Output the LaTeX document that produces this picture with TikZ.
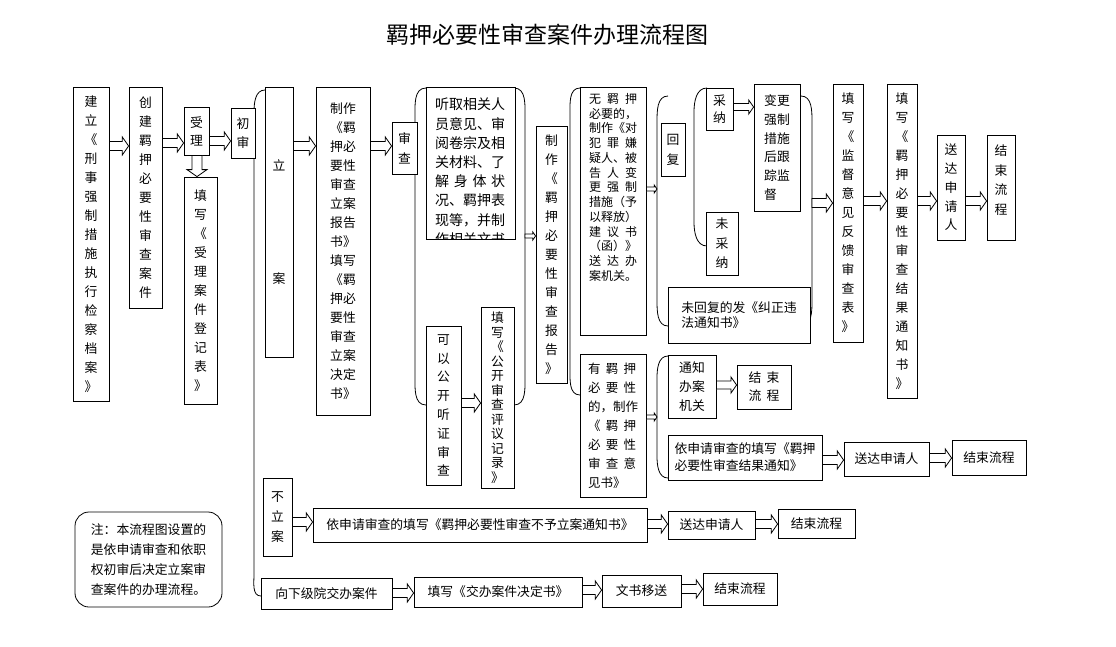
\documentclass[tikz,border=0pt]{standalone}
\usepackage{fontspec}
\setmainfont{Noto Sans CJK SC}
\usetikzlibrary{calc}

\tikzset{
  box/.style={draw, fill=white, line width=0.8pt, inner sep=0pt, align=center,
    font=\fontsize{12.8}{19}\selectfont},
  wen/.style={inner sep=0pt, align=center, font=\fontsize{12.8}{19}\selectfont},
  blk/.style={draw, fill=white, line width=0.8pt},
  brc/.style={draw, line width=0.8pt},
}

% box from its corners: [opts] name x1 y1 x2 y2 text
\newcommand\kuang[7][]{%
  \node[box, minimum width={(#5-#3)*1pt}, minimum height={(#6-#4)*1pt}, #1]
    (#2) at ({(#3+#5)/2},{(#4+#6)/2}) {#7};}

% hollow block arrow, left to right: [half shaft] from to y
\newcommand\jt[4][4.5]{%
  \draw[blk] let \p1=#2, \p2=#3, \p3=(0,#4) in
    (\x1,\y3+#1pt) -- (\x2-1.4*#1pt,\y3+#1pt) -- (\x2-1.4*#1pt,\y3+2*#1pt)
    -- (\x2,\y3) -- (\x2-1.4*#1pt,\y3-2*#1pt) -- (\x2-1.4*#1pt,\y3-#1pt)
    -- (\x1,\y3-#1pt) -- cycle;}

% hollow block arrow, downwards: [half shaft] from to x
\newcommand\jtd[4][5]{%
  \draw[blk] let \p1=#2, \p2=#3, \p3=(#4,0) in
    (\x3-#1pt,\y1) -- (\x3-#1pt,\y2+1.4*#1pt) -- (\x3-2*#1pt,\y2+1.4*#1pt)
    -- (\x3,\y2) -- (\x3+2*#1pt,\y2+1.4*#1pt) -- (\x3+#1pt,\y2+1.4*#1pt)
    -- (\x3+#1pt,\y1) -- cycle;}

% spread line
\newcommand\pk[2][48pt]{\makebox[#1][s]{#2}}

\begin{document}
\begin{tikzpicture}[x=1pt, y=-1pt]

  \useasboundingbox (0,0) rectangle (1116,646);

  \node[font=\fontsize{23}{23}\selectfont] (biaoti) at (547,35) {羁押必要性审查案件办理流程图};

  % braces
  \draw[brc] (265,90) to[out=180,in=90] (254,112) -- (254,574) to[out=-90,in=180] (261,596);

  \draw[brc] (426,88) to[out=180,in=90] (415,118) -- (415,375) to[out=-90,in=180] (426,405);
  \draw[brc] (514,88) to[out=0,in=90] (525,118) -- (525,375) to[out=-90,in=0] (514,405);
  \coordinate (shenchaR) at (525,236);

  \draw[brc] (580,88) to[out=180,in=90] (570,115) -- (570,368) to[out=-90,in=180] (580,395);

  \draw[brc] (668,96) to[out=180,in=90] (657,122) -- (657,300) to[out=-90,in=180] (668,326);
  \draw[brc] (801,96) to[out=0,in=90] (812,122) -- (812,300) to[out=-90,in=0] (801,326);
  \coordinate (huifuL) at (657,189);
  \coordinate (huifuR) at (812,203);

  \draw[brc] (707,88) to[out=180,in=90] (694,112) -- (694,222) to[out=-90,in=180] (707,246);

  \draw[brc] (668,356) to[out=180,in=90] (657,378) -- (657,456) to[out=-90,in=180] (668,478);
  \coordinate (youR) at (657,417);

  % first row
  \kuang{jianli}{73}{87}{109}{401}{建\\立\\《\\刑\\事\\强\\制\\措\\施\\执\\行\\检\\察\\档\\案\\》}
  \kuang{chuangjian}{129}{87}{162}{308}{创\\建\\羁\\押\\必\\要\\性\\审\\查\\案\\件}
  \kuang[font=\fontsize{12.8}{18}\selectfont]{shouli}{184}{107}{209}{155}{受\\理}
  \kuang{tianxie1}{184}{177}{217}{404}{填\\写\\《\\受\\理\\案\\件\\登\\记\\表\\》}
  \kuang{chushen}{231}{108}{255}{158}{初\\审}
  \kuang{lian}{265}{87}{293}{357}{立\\[94pt]案}
  \kuang{zhizuo1}{316}{87}{370}{415}{制作\\《羁\\押必\\要性\\审查\\立案\\报告\\书》\\填写\\《羁\\押必\\要性\\审查\\立案\\决定\\书》}
  \kuang[font=\fontsize{12.8}{20}\selectfont]{shencha}{392}{122}{417}{174}{审\\查}

  % hearing text, cut at the box bottom
  \kuang{tingqu}{426}{87}{515}{239}{}
  \begin{scope}
    \clip (tingqu.south west) rectangle (tingqu.north east);
    \node[wen, anchor=north west, align=left, font=\fontsize{14}{19.2}\selectfont]
      (tingquwen) at (435,98) {听取相关人\\员意见、审\\阅卷宗及相\\关材料、了\\\pk[70pt]{解\hfil 身\hfil 体\hfil 状}\\况、羁押表\\现等，并制\\作相关文书};
  \end{scope}

  \kuang[font=\fontsize{12.8}{18.8}\selectfont]{gongkai}{426}{326}{461}{485}{可\\以\\公\\开\\听\\证\\审\\查}
  \kuang[font=\fontsize{12.8}{14.5}\selectfont]{tianxie2}{481}{307}{514}{488}{填\\写\\《\\公\\开\\审\\查\\评\\议\\记\\录\\》}
  \kuang{zhizuo2}{536}{126}{567}{383}{制\\作\\《\\羁\\押\\必\\要\\性\\审\\查\\报\\告\\》}

  \kuang{wu}{580}{87}{646}{335}{}
  \node[wen, anchor=north, font=\fontsize{12}{14.75}\selectfont] (wuwen) at (613,93)
    {\pk{无\hfil 羁\hfil 押}\\必要的，\\制作《对\\\pk{犯\hfil 罪\hfil 嫌}\\疑人、被\\\pk{告\hfil 人\hfil 变}\\\pk{更\hfil 强\hfil 制}\\措施（予\\以释放）\\\pk{建\hfil 议\hfil 书}\\（函）》\\\pk{送\hfil 达\hfil 办}\\案机关。};
  \kuang[font=\fontsize{12.5}{19}\selectfont, align=left]{you}{580}{354}{646}{497}{\pk{有\hfil 羁\hfil 押}\\\pk{必\hfil 要\hfil 性}\\的，制作\\\pk{《\hfil 羁\hfil 押}\\\pk{必\hfil 要\hfil 性}\\\pk{审\hfil 查\hfil 意}\\见书》}

  \kuang[font=\fontsize{12.8}{20}\selectfont]{huifu}{661}{123}{685}{176}{回\\复}
  \kuang[font=\fontsize{12.8}{17}\selectfont]{caina}{706}{88}{733}{130}{采\\纳}
  \kuang[font=\fontsize{12.8}{19.5}\selectfont]{weicaina}{706}{212}{738}{275}{未\\采\\纳}
  \kuang[font=\fontsize{12.8}{18.7}\selectfont, align=left]{biangeng}{754}{84}{800}{211}{变更\\强制\\措施\\后跟\\踪监\\督}
  \kuang[font=\fontsize{12.8}{15}\selectfont, align=left]{weihuifu}{668}{287}{810}{343}{未回复的发《纠正违\\法通知书》}

  \kuang{jiandu}{833}{84}{863}{342}{填\\写\\《\\监\\督\\意\\见\\反\\馈\\审\\查\\表\\》}
  \kuang{jieguo}{887}{84}{917}{398}{填\\写\\《\\羁\\押\\必\\要\\性\\审\\查\\结\\果\\通\\知\\书\\》}
  \kuang[font=\fontsize{12.8}{18.8}\selectfont]{songda1}{937}{135}{965}{240}{送\\达\\申\\请\\人}
  \kuang{end1}{987}{135}{1015}{240}{}
  \node[wen, anchor=north, font=\fontsize{12.8}{19.4}\selectfont] (end1wen) at (1001,145) {结\\束\\流\\程};

  % detention needed
  \kuang{tongzhi}{668}{355}{716}{418}{通知\\办案\\机关}
  \kuang[font=\fontsize{12.8}{18}\selectfont]{end2}{737}{365}{791}{409}{结\hspace{5pt}束\\流\hspace{5pt}程}
  \kuang[font=\fontsize{12.8}{17}\selectfont, align=left]{yishenqing1}{668}{435}{822}{480}{依申请审查的填写《羁押\\必要性审查结果通知》}
  \kuang{songda2}{844}{442}{929}{476}{送达申请人}
  \kuang{end3}{952}{440}{1026}{475}{结束流程}

  % not filed
  \kuang[font=\fontsize{12.8}{20}\selectfont]{buli}{263}{478}{292}{556}{不\\立\\案}
  \kuang{yishenqing2}{313}{508}{647}{542}{依申请审查的填写《羁押必要性审查不予立案通知书》}
  \kuang{songda3}{668}{511}{755}{539}{送达申请人}
  \kuang{end4}{778}{509}{855}{538}{结束流程}

  % handed down
  \kuang{xiajiao}{261}{578}{392}{609}{向下级院交办案件}
  \kuang{tianxie3}{414}{577}{582}{607}{填写《交办案件决定书》}
  \kuang{wenshu}{602}{575}{681}{607}{文书移送}
  \kuang{end5}{703}{573}{777}{605}{结束流程}

  \kuang[rounded corners=14pt, align=left, font=\fontsize{12.8}{20}\selectfont]{zhu}{75}{512}{222}{607}{注：本流程图设置的\\是依申请审查和依职\\权初审后决定立案审\\查案件的办理流程。}

  % arrows
  \jt{(jianli.east)}{(chuangjian.west)}{146}
  \jt{(chuangjian.east)}{(shouli.west)}{143}
  \jt{(shouli.east)}{(chushen.west)}{141}
  \jtd{(shouli.south)}{(tianxie1.north)}{197}
  \jt{(lian.east)}{(zhizuo1.west)}{146}
  \jt{(zhizuo1.east)}{(shencha.west)}{146}
  \jt{(gongkai.east)}{(tianxie2.west)}{403}
  \jt[2]{(shenchaR)}{(zhizuo2.west)}{236}
  \jt[2]{(wu.east)}{(huifuL)}{189}
  \jt[2]{(you.east)}{(youR)}{417}
  \jt[3.5]{(caina.east)}{(biangeng.west)}{107}
  \jt{(huifuR)}{(jiandu.west)}{203}
  \jt{(jiandu.east)}{(jieguo.west)}{201}
  \jt{(jieguo.east)}{(songda1.west)}{201}
  \jt{(songda1.east)}{(end1.west)}{201}
  \jt[4]{(tongzhi.east)}{(end2.west)}{385}
  \jt{(yishenqing1.east)}{(songda2.west)}{460}
  \jt{(songda2.east)}{(end3.west)}{458}
  \jt{(buli.east)}{(yishenqing2.west)}{522}
  \jt{(yishenqing2.east)}{(songda3.west)}{524}
  \jt{(songda3.east)}{(end4.west)}{524}
  \jt{(xiajiao.east)}{(tianxie3.west)}{593}
  \jt{(tianxie3.east)}{(wenshu.west)}{590}
  \jt{(wenshu.east)}{(end5.west)}{589}

\end{tikzpicture}
\end{document}
